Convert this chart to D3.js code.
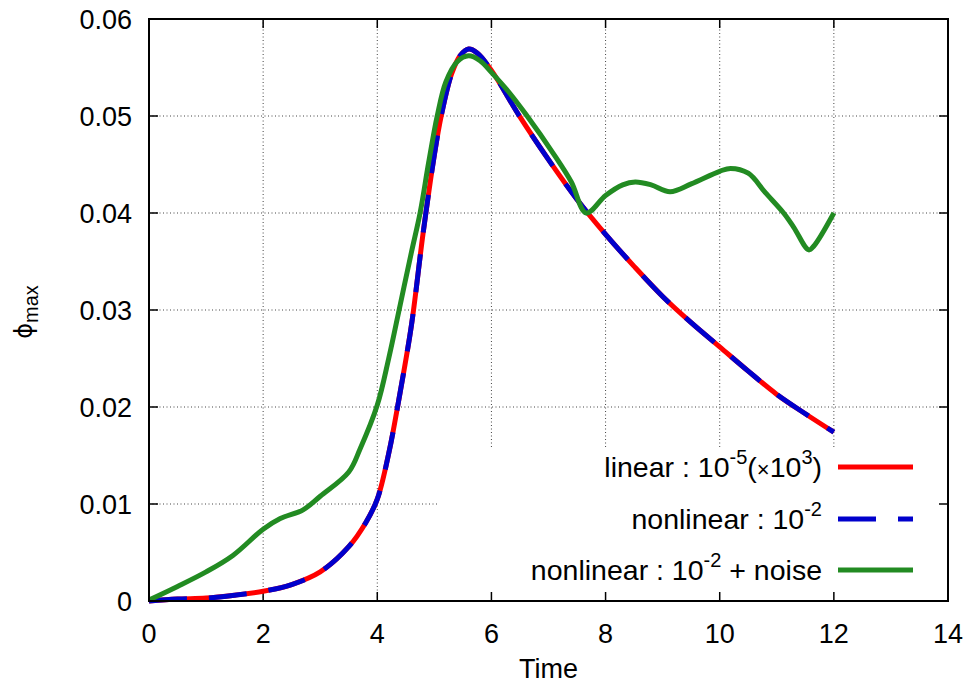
<!DOCTYPE html>
<html>
<head>
<meta charset="utf-8">
<script src="https://cdn.jsdelivr.net/npm/d3@7"></script>
<style>
body { margin: 0; background: #fff; }
svg { font-family: "Liberation Sans", Arial, sans-serif; }
</style>
</head>
<body>
<svg id="chart" width="968" height="686"></svg>
<script>
// Time samples and phi_max values
var linearT = [0, 0.5, 1, 1.5, 2, 2.5, 3, 3.5, 3.8, 4.0, 4.2, 4.4, 4.6, 4.8, 5.0, 5.12, 5.3, 5.45, 5.6, 5.75, 6.0, 6.5, 7.0, 7.5, 8.0, 8.5, 9.0, 9.5, 10.0, 10.5, 11.0, 11.5, 12.0];
var linearY = [0, 0.0002, 0.0003, 0.0006, 0.001, 0.0017, 0.003, 0.0056, 0.0081, 0.0105, 0.0152, 0.0215, 0.0285, 0.0378, 0.046, 0.050, 0.0543, 0.0562, 0.0569, 0.0565, 0.0547, 0.0499, 0.0455, 0.0414, 0.0378, 0.0345, 0.0314, 0.0287, 0.0262, 0.0237, 0.0213, 0.0193, 0.0174];
// nonlinear 1e-2 follows the linear run
var nonlinearT = linearT.slice();
var nonlinearY = linearY.slice();
var noiseT = [0, 0.5, 1, 1.47, 2, 2.3, 2.7, 3.0, 3.5, 3.7, 4.0, 4.2, 4.4, 4.6, 4.75, 4.9, 5.05, 5.2, 5.4, 5.6, 5.8, 6.0, 6.3, 6.6, 7.1, 7.4, 7.66, 8.0, 8.3, 8.52, 8.8, 9.13, 9.5, 10.0, 10.19, 10.5, 10.8, 11.12, 11.3, 11.56, 11.65, 12.0];
var noiseY = [0.0001, 0.0015, 0.003, 0.0047, 0.0074, 0.0085, 0.0094, 0.0108, 0.0133, 0.0157, 0.0202, 0.025, 0.0305, 0.036, 0.040, 0.0452, 0.050, 0.0535, 0.0556, 0.0562, 0.0557, 0.0545, 0.0525, 0.0502, 0.046, 0.0432, 0.040, 0.0418, 0.0429, 0.0432, 0.0429, 0.0422, 0.0430, 0.0443, 0.0446, 0.0441, 0.0421, 0.040, 0.0385, 0.0362, 0.0366, 0.040];

var xTicks = [0, 2, 4, 6, 8, 10, 12, 14];
var yTicks = [0, 0.01, 0.02, 0.03, 0.04, 0.05, 0.06];

var plotL = 149, plotR = 948, plotT = 19, plotB = 601;
var fs = 27, fsKey = 28.5, fsSup = 20;
var svg = d3.select('#chart');

var x = d3.scaleLinear().domain([0, 14]).range([plotL, plotR]);
var y = d3.scaleLinear().domain([0, 0.06]).range([plotB, plotT]);

// Grid
var grid = svg.append('g').attr('stroke', '#444').attr('stroke-width', 1).attr('stroke-dasharray', '1,2.5');
grid.selectAll('.gx').data(xTicks.slice(1, -1)).enter().append('line')
    .attr('x1', function(d) { return x(d); }).attr('x2', function(d) { return x(d); })
    .attr('y1', plotT).attr('y2', plotB);
grid.selectAll('.gy').data(yTicks.slice(1, -1)).enter().append('line')
    .attr('y1', function(d) { return y(d); }).attr('y2', function(d) { return y(d); })
    .attr('x1', plotL).attr('x2', plotR);

// key area hides the grid
svg.append('rect').attr('x', 437).attr('y', 448).attr('width', plotR - 437).attr('height', plotB - 448).attr('fill', '#fff');

// Ticks on all four sides
var ticks = svg.append('g').attr('stroke', '#000').attr('stroke-width', 1.5);
xTicks.forEach(function(d) {
    ticks.append('line').attr('x1', x(d)).attr('x2', x(d)).attr('y1', plotB).attr('y2', plotB - 9);
    ticks.append('line').attr('x1', x(d)).attr('x2', x(d)).attr('y1', plotT).attr('y2', plotT + 9);
});
yTicks.forEach(function(d) {
    ticks.append('line').attr('y1', y(d)).attr('y2', y(d)).attr('x1', plotL).attr('x2', plotL + 9);
    ticks.append('line').attr('y1', y(d)).attr('y2', y(d)).attr('x1', plotR).attr('x2', plotR - 9);
});

// Tick labels
svg.append('g').selectAll('text').data(xTicks).enter().append('text')
    .attr('x', function(d) { return x(d); }).attr('y', 643)
    .attr('text-anchor', 'middle').attr('font-size', fs)
    .text(function(d) { return d; });
svg.append('g').selectAll('text').data(yTicks).enter().append('text')
    .attr('x', 132).attr('y', function(d) { return y(d) + 10; })
    .attr('text-anchor', 'end').attr('font-size', fs)
    .text(function(d) { return d === 0 ? '0' : d.toFixed(2); });

// Axis titles
svg.append('text').attr('x', (plotL + plotR) / 2).attr('y', 678).attr('text-anchor', 'middle')
    .attr('font-size', fs).text('Time');
var yl = svg.append('text').attr('transform', 'translate(32,' + 312 + ') rotate(-90)')
    .attr('text-anchor', 'middle').attr('font-size', fs);
yl.append('tspan').attr('font-family', 'DejaVu Sans').attr('font-size', 24).text('ϕ');
yl.append('tspan').attr('font-size', fsSup).attr('dy', 6).text('max');

// Curves
function pts(ts, ys) { return ts.map(function(t, i) { return [t, ys[i]]; }); }
var line = d3.line().x(function(d) { return x(d[0]); }).y(function(d) { return y(d[1]); })
    .curve(d3.curveCatmullRom.alpha(0.5));

var curves = svg.append('g').attr('fill', 'none').attr('stroke-width', 5);
curves.append('path').attr('d', line(pts(linearT, linearY))).attr('stroke', '#ff0000');
curves.append('path').attr('d', line(pts(nonlinearT, nonlinearY))).attr('stroke', '#0000cc')
    .attr('stroke-dasharray', '38,22');
curves.append('path').attr('d', line(pts(noiseT, noiseY))).attr('stroke', '#228b22');

// Frame
svg.append('rect').attr('x', plotL).attr('y', plotT).attr('width', plotR - plotL).attr('height', plotB - plotT)
    .attr('fill', 'none').attr('stroke', '#000').attr('stroke-width', 2);

// Key
var key = svg.append('g').attr('font-size', fsKey);
var rows = [
    { yc: 467, color: '#ff0000', dash: null },
    { yc: 519, color: '#0000cc', dash: '38,22' },
    { yc: 570, color: '#228b22', dash: null }
];
rows.forEach(function(r) {
    key.append('line').attr('x1', 838).attr('x2', 913).attr('y1', r.yc).attr('y2', r.yc)
        .attr('stroke', r.color).attr('stroke-width', 5).attr('stroke-dasharray', r.dash);
});
function sup(t, s) { t.append('tspan').attr('font-size', fsSup).attr('dy', -13).text(s); }
function back(t, s) { t.append('tspan').attr('dy', 13).text(s); }
var t1 = key.append('text').attr('x', 822).attr('y', 467 + 10).attr('text-anchor', 'end');
t1.append('tspan').text('linear : 10'); sup(t1, '-5'); back(t1, '(');
t1.append('tspan').attr('font-size', 22).text('×');
t1.append('tspan').text('10'); sup(t1, '3'); back(t1, ')');
var t2 = key.append('text').attr('x', 822).attr('y', 519 + 10).attr('text-anchor', 'end');
t2.append('tspan').text('nonlinear : 10'); sup(t2, '-2');
var t3 = key.append('text').attr('x', 822).attr('y', 570 + 10).attr('text-anchor', 'end');
t3.append('tspan').text('nonlinear : 10'); sup(t3, '-2'); back(t3, ' + noise');
</script>
</body>
</html>
